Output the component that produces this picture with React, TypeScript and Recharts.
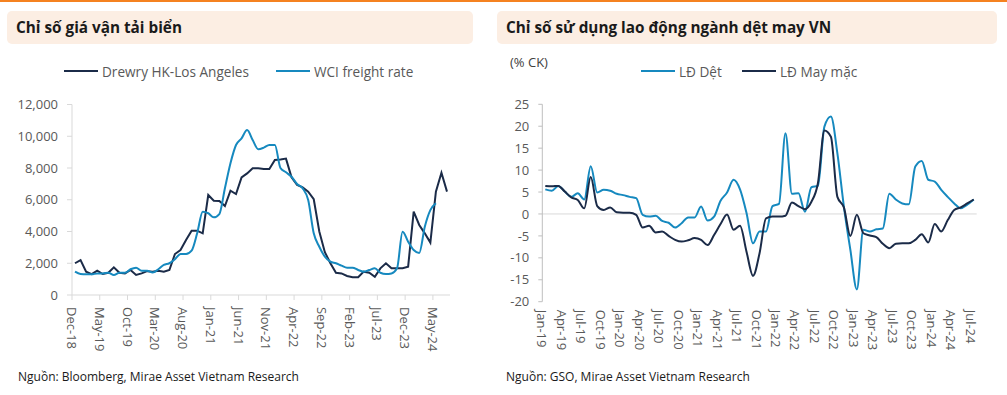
import { LineChart, Line, XAxis, YAxis, ReferenceLine } from "recharts";

// Chỉ số giá vận tải biển (USD/FEU), monthly
const freightMonths = [
  "Dec-18",
  "Jan-19", "Feb-19", "Mar-19", "Apr-19", "May-19", "Jun-19", "Jul-19", "Aug-19", "Sep-19", "Oct-19", "Nov-19", "Dec-19",
  "Jan-20", "Feb-20", "Mar-20", "Apr-20", "May-20", "Jun-20", "Jul-20", "Aug-20", "Sep-20", "Oct-20", "Nov-20", "Dec-20",
  "Jan-21", "Feb-21", "Mar-21", "Apr-21", "May-21", "Jun-21", "Jul-21", "Aug-21", "Sep-21", "Oct-21", "Nov-21", "Dec-21",
  "Jan-22", "Feb-22", "Mar-22", "Apr-22", "May-22", "Jun-22", "Jul-22", "Aug-22", "Sep-22", "Oct-22", "Nov-22", "Dec-22",
  "Jan-23", "Feb-23", "Mar-23", "Apr-23", "May-23", "Jun-23", "Jul-23", "Aug-23", "Sep-23", "Oct-23", "Nov-23", "Dec-23",
  "Jan-24", "Feb-24", "Mar-24", "Apr-24", "May-24", "Jun-24", "Jul-24",
];
const drewry = [
  2000, 2200, 1470, 1320, 1530, 1320, 1400, 1740, 1400, 1360, 1575, 1260, 1360, 1500, 1470, 1530, 1470, 1575,
  2580, 2830, 3460, 4050, 4050, 3885, 6300, 5940, 5920, 5600, 6570, 6360, 7410, 7660, 7980, 7980, 7940, 7940,
  8500, 8540, 8590, 7410, 6930, 6780, 6510, 6030, 4000, 2700, 2000, 1400, 1360, 1200, 1115, 1115, 1470, 1400,
  1150, 1680, 2000, 1680, 1680, 1680, 1785, 5250, 4410, 3885, 3300, 6510, 7700, 6510,
];
const wci = [
  1470, 1320, 1300, 1300, 1360, 1360, 1400, 1260, 1400, 1400, 1620, 1720, 1530, 1530, 1420, 1620, 1890, 2000,
  2250, 2580, 2580, 2790, 3885, 5250, 5150, 4890, 5100, 6720, 8300, 9450, 9870, 10390, 9760, 9180, 9280, 9450,
  9450, 8000, 7730, 7450, 6990, 6720, 5980, 3885, 3040, 2415, 2100, 2000, 1850, 1720, 1720, 1575, 1470, 1575,
  1680, 1400, 1320, 1360, 1680, 3990, 3360, 2830, 2650, 4300, 5350, 5780,
];
const freightTicks = [0, 2000, 4000, 6000, 8000, 10000, 12000];

// Chỉ số sử dụng lao động ngành dệt may VN (% CK)
const laborMonths = [
  "Jan-19", "Feb-19", "Mar-19", "Apr-19", "May-19", "Jun-19", "Jul-19", "Aug-19", "Sep-19", "Oct-19", "Nov-19", "Dec-19",
  "Jan-20", "Feb-20", "Mar-20", "Apr-20", "May-20", "Jun-20", "Jul-20", "Aug-20", "Sep-20", "Oct-20", "Nov-20", "Dec-20",
  "Jan-21", "Feb-21", "Mar-21", "Apr-21", "May-21", "Jun-21", "Jul-21", "Aug-21", "Sep-21", "Oct-21", "Nov-21", "Dec-21",
  "Jan-22", "Feb-22", "Mar-22", "Apr-22", "May-22", "Jun-22", "Jul-22", "Aug-22", "Sep-22", "Oct-22", "Nov-22", "Dec-22",
  "Jan-23", "Feb-23", "Mar-23", "Apr-23", "May-23", "Jun-23", "Jul-23", "Aug-23", "Sep-23", "Oct-23", "Nov-23", "Dec-23",
  "Jan-24", "Feb-24", "Mar-24", "Apr-24", "May-24", "Jun-24", "Jul-24",
];
const laoDongDet = [
  5.6, 5.3, 6.4, 5.1, 3.9, 4.7, 3.3, 10.9, 4.9, 5.5, 5.3, 4.6, 4.3, 3.9, 3.6, -0.2, -0.6, -0.4, -1.6, -2.0,
  -3.1, -2.1, -0.8, -0.8, 1.7, -1.5, -0.6, 3.0, 4.9, 7.8, 5.6, 0.2, -6.7, -4.0, -4.0, 1.8, 2.3, 18.4, 4.6, 4.7,
  0.5, 6.1, 6.4, 19.9, 22.2, 13.8, 1.7, -8.2, -17.2, -3.6, -4.0, -3.5, -3.3, 4.6, 3.3, 2.4, 2.2, 10.8, 12.1, 7.8,
  7.4, 5.5, 3.9, 2.4, 1.3, 2.1, 3.3,
];
const laoDongMayMac = [
  6.4, 6.3, 6.4, 5.1, 3.8, 3.2, 1.3, 8.4, 1.8, 0.9, 1.5, 0.4, 0.3, 0.3, -0.2, -3.1, -2.7, -4.2, -4.0, -5.0,
  -5.9, -6.3, -6.0, -5.5, -5.9, -7.1, -4.8, -2.3, -0.1, -3.6, -2.7, -8.6, -14.1, -9.0, -1.0, -0.6, -0.6, -0.4, 2.6, 1.8,
  1.1, 2.8, 7.0, 19.0, 17.6, 3.9, 1.5, -5.0, -0.2, -4.4, -4.9, -5.3, -6.8, -7.8, -6.8, -6.7, -6.7, -5.9, -4.6, -6.5,
  -2.3, -4.0, -1.4, 0.9, 1.5, 2.4, 3.3,
];
const laborTicks = [-20, -15, -10, -5, 0, 5, 10, 15, 20, 25];

const freightData = freightMonths.map((m, i) => ({ month: m, drewry: drewry[i], wci: wci[i] }));
const laborData = laborMonths.map((m, i) => ({ month: m, det: laoDongDet[i], mayMac: laoDongMayMac[i] }));

const NAVY = "#1B2B48";
const BLUE = "#1689BF";
const GREY_TEXT = "#595959";
const FONT = '"Open Sans", sans-serif';

function RotTick(props: any) {
  const { x, y, payload, shift, gap, mark } = props;
  const tx = x + shift;
  const ty = y + gap;
  return (
    <g>
      {mark && <line x1={tx} y1={y} x2={tx} y2={y + 5} stroke="#D9D9D9" />}
      <text
        x={tx}
        y={ty}
        transform={`rotate(90, ${tx}, ${ty})`}
        textAnchor="start"
        dominantBaseline="central"
        fontSize={13}
        fill={GREY_TEXT}
      >
        {payload.value}
      </text>
    </g>
  );
}

function TitleBox({ left, width, text }: { left: number; width: number; text: string }) {
  return (
    <div
      style={{
        position: "absolute",
        left,
        top: 11,
        width,
        height: 33,
        background: "#FCEEE3",
        borderRadius: 5,
        boxSizing: "border-box",
        paddingLeft: 9,
        lineHeight: "33px",
        fontSize: 15.3,
        fontWeight: 700,
        color: "#1a1a1a",
        whiteSpace: "nowrap",
      }}
    >
      {text}
    </div>
  );
}

function LegendItem({ left, color, label }: { left: number; color: string; label: string }) {
  return (
    <div style={{ position: "absolute", left, top: 61, height: 20, display: "flex", alignItems: "center" }}>
      <span style={{ width: 34, height: 2, background: color, marginRight: 4 }} />
      <span style={{ fontSize: 13.6, color: GREY_TEXT, whiteSpace: "nowrap" }}>{label}</span>
    </div>
  );
}

function Source({ left, text }: { left: number; text: string }) {
  return (
    <div style={{ position: "absolute", left, top: 369, fontSize: 12, lineHeight: "16px", color: "#1a1a1a", whiteSpace: "nowrap" }}>
      {text}
    </div>
  );
}

export default function App() {
  return (
    <div
      style={{
        position: "absolute",
        left: 0,
        top: 0,
        width: 1007,
        height: 395,
        background: "#fff",
        fontFamily: FONT,
        overflow: "hidden",
      }}
    >
      <div style={{ position: "absolute", left: 0, top: 0, width: 1007, height: 2, background: "#F58220" }} />

      <TitleBox left={7} width={466} text="Chỉ số giá vận tải biển" />
      <TitleBox left={497} width={500} text="Chỉ số sử dụng lao động ngành dệt may VN" />

      <LegendItem left={64} color={NAVY} label="Drewry HK-Los Angeles" />
      <LegendItem left={276} color={BLUE} label="WCI freight rate" />

      <div style={{ position: "absolute", left: 510, top: 53, fontSize: 13, lineHeight: "18px", color: "#404040" }}>(% CK)</div>
      <LegendItem left={641} color={BLUE} label="LĐ Dệt" />
      <LegendItem left={742} color={NAVY} label="LĐ May mặc" />

      <div style={{ position: "absolute", left: 0, top: 90 }}>
        <LineChart width={480} height={305} data={freightData} margin={{ top: 14.5, right: 30, left: 0, bottom: 40 }}>
          <XAxis
            dataKey="month"
            interval={4}
            padding={{ left: 3, right: 3 }}
            axisLine={{ stroke: "#D9D9D9" }}
            tickLine={false}
            tickSize={0}
            tickMargin={0}
            height={60}
            tick={(p: any) => <RotTick {...p} shift={-3} gap={12} mark />}
          />
          <YAxis
            width={72}
            domain={[0, 12000]}
            ticks={freightTicks}
            interval={0}
            tickFormatter={(v: number) => v.toLocaleString("en-US")}
            axisLine={{ stroke: "#D9D9D9" }}
            tickLine={{ stroke: "#D9D9D9" }}
            tickSize={5}
            tickMargin={9}
            tick={{ fill: GREY_TEXT, fontSize: 13 }}
          />
          <Line
            type="linear"
            dataKey="drewry"
            stroke={NAVY}
            strokeWidth={2}
            dot={false}
            isAnimationActive={false}
          />
          <Line
            type="monotone"
            dataKey="wci"
            stroke={BLUE}
            strokeWidth={2}
            dot={false}
            isAnimationActive={false}
          />
        </LineChart>
      </div>

      <div style={{ position: "absolute", left: 490, top: 90 }}>
        <LineChart width={517} height={305} data={laborData} margin={{ top: 14.3, right: 30.3, left: 0, bottom: 33.3 }}>
          <XAxis
            dataKey="month"
            interval={2}
            padding={{ left: 3, right: 3 }}
            axisLine={false}
            tickLine={false}
            tickSize={0}
            tickMargin={0}
            height={60}
            tick={(p: any) => <RotTick {...p} shift={-3} gap={8} />}
          />
          <YAxis
            width={52.3}
            domain={[-20, 25]}
            ticks={laborTicks}
            interval={0}
            axisLine={{ stroke: "#BFBFBF" }}
            tickLine={{ stroke: "#BFBFBF" }}
            tickSize={4}
            tickMargin={9}
            tick={{ fill: GREY_TEXT, fontSize: 13 }}
          />
          <ReferenceLine y={0} stroke="#D9D9D9" />
          <Line
            type="monotone"
            dataKey="det"
            stroke={BLUE}
            strokeWidth={2}
            dot={false}
            isAnimationActive={false}
          />
          <Line
            type="monotone"
            dataKey="mayMac"
            stroke={NAVY}
            strokeWidth={2}
            dot={false}
            isAnimationActive={false}
          />
        </LineChart>
      </div>

      <Source left={18} text="Nguồn: Bloomberg, Mirae Asset Vietnam Research" />
      <Source left={506} text="Nguồn: GSO, Mirae Asset Vietnam Research" />
    </div>
  );
}
